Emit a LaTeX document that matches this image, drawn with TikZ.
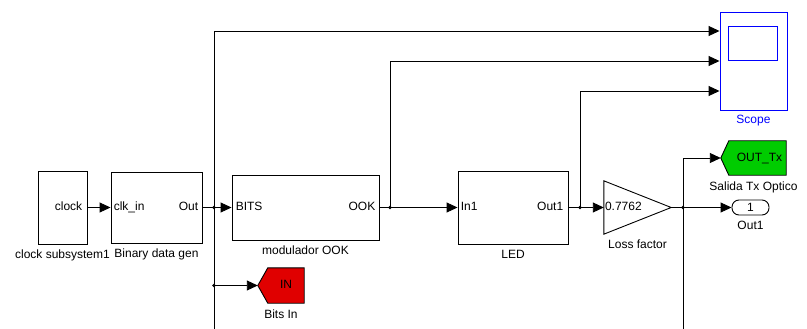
\documentclass[tikz,border=0pt]{standalone}
\usepackage{fontspec}
\setmainfont{Liberation Sans}
\usepackage{xcolor}
\usetikzlibrary{arrows.meta, positioning, calc}
\definecolor{gotored}{RGB}{224,0,0}
\definecolor{gotogreen}{RGB}{0,204,0}
\definecolor{scopeblue}{RGB}{0,0,255}

\begin{document}
\begin{tikzpicture}[x=1pt, y=-1pt,
    every node/.style={font=\fontsize{12}{14}\selectfont},
    block/.style={rectangle, draw=black, line width=0.9pt, inner sep=0pt, fill=white},
    port/.style={inner sep=1pt, text height=8pt, text depth=2pt},
    lbl/.style={inner sep=1pt, text height=8pt, text depth=2pt},
    net/.style={line width=0.9pt},
    wire/.style={-{Triangle[length=11pt, width=10pt]}, line width=0.9pt},
    jdot/.style={fill=black}
]
\useasboundingbox (0,0) rectangle (807,329);

% === Source blocks ===
\node[block, minimum width=49pt, minimum height=73pt] (clk) at (62.5, 207.5) {};
\node[port, anchor=east] at ([xshift=-4pt]clk.east) {clock};
\node[lbl, below=5pt of clk] {clock subsystem1};

\node[block, minimum width=91pt, minimum height=71pt] (gen) at (156.5, 207.5) {};
\node[port, anchor=west] at ([xshift=2pt]gen.west) {clk\_in};
\node[port, anchor=east] at ([xshift=-3pt]gen.east) {Out};
\node[lbl, below=5pt of gen] {Binary data gen};

% === Modulator and LED ===
\node[block, minimum width=147pt, minimum height=65pt] (mod) at (305.5, 207.5) {};
\node[port, anchor=west] at ([xshift=3pt]mod.west) {BITS};
\node[port, anchor=east] at ([xshift=-3pt]mod.east) {OOK};
\node[lbl, below=5pt of mod] {modulador OOK};

\node[block, minimum width=110pt, minimum height=73pt] (led) at (513, 207.5) {};
\node[port, anchor=west] at ([xshift=2pt]led.west) {In1};
\node[port, anchor=east] at ([xshift=-4pt]led.east) {Out1};
\node[lbl, below=5pt of led] {LED};

% === Gain ===
\node[minimum width=67pt, minimum height=53pt, inner sep=0pt] (gain) at (637.5, 207.5) {};
\draw[net, fill=white] (gain.north west) -- (gain.east) -- (gain.south west) -- cycle;
\node[port, anchor=west] at (gain.west) {0.7762};
\node[lbl, below=5pt of gain] {Loss factor};

% === Scope ===
\node[block, draw=scopeblue, minimum width=67pt, minimum height=98pt] (scope) at (753.5, 61) {};
\draw[net, draw=scopeblue] ($(scope.north west)+(9,15)$) rectangle ($(scope.north west)+(58,49)$);
\node[lbl, text=scopeblue, below=4pt of scope] {Scope};
\coordinate (sin1) at ([yshift=30pt]scope.west);
\coordinate (sin2) at (scope.west);
\coordinate (sin3) at ([yshift=-30pt]scope.west);

% === Goto / outport ===
\node[minimum width=65pt, minimum height=34pt, inner sep=0pt] (outtx) at (753.5, 158) {};
\draw[net, fill=gotogreen] (outtx.west) -- ([xshift=8pt]outtx.north west) -- (outtx.north east)
    -- (outtx.south east) -- ([xshift=8pt]outtx.south west) -- cycle;
\node[port] at ([xshift=6pt]outtx.center) {OUT\_Tx};
\node[lbl, below=6pt of outtx] {Salida Tx Optico};

\node[block, rounded corners=7pt, minimum width=37pt, minimum height=15pt] (out1) at (750.5, 207.5) {1};
\node[lbl, below=5pt of out1] {Out1};

\node[minimum width=46pt, minimum height=35pt, inner sep=0pt] (bits) at (281, 285.5) {};
\draw[net, fill=gotored] (bits.west) -- ([xshift=10pt]bits.north west) -- (bits.north east)
    -- (bits.south east) -- ([xshift=10pt]bits.south west) -- cycle;
\node[port] at ([xshift=5pt]bits.center) {IN};
\node[lbl, below=6pt of bits] {Bits In};

% === Branch points ===
\coordinate (j1) at (214, 207.5);
\coordinate (j2) at (390, 207.5);
\coordinate (j3) at (580, 207.5);
\coordinate (j4) at (683, 207.5);
\coordinate (j5) at (j1 |- bits.west);
\coordinate (b1) at (214, 329);
\coordinate (b2) at (683, 329);

% === Signals ===
\draw[wire] (clk) -- (gen);
\draw[wire] (gen) -- (mod);
\draw[wire] (mod) -- (led);
\draw[wire] (led) -- (gain.west);
\draw[wire] (gain.east) -- (out1);

\draw[wire] (j1) |- (sin1);
\draw[net] (j1) -- (b1);
\draw[wire] (j5) -- (bits);
\draw[wire] (j2) |- (sin2);
\draw[wire] (j3) |- (sin3);
\draw[wire] (j4) |- (outtx.west);
\draw[net] (j4) -- (b2);

\foreach \j in {j1,j2,j3,j4,j5}
    \fill[jdot] (\j) circle (1.8pt);

\end{tikzpicture}
\end{document}
